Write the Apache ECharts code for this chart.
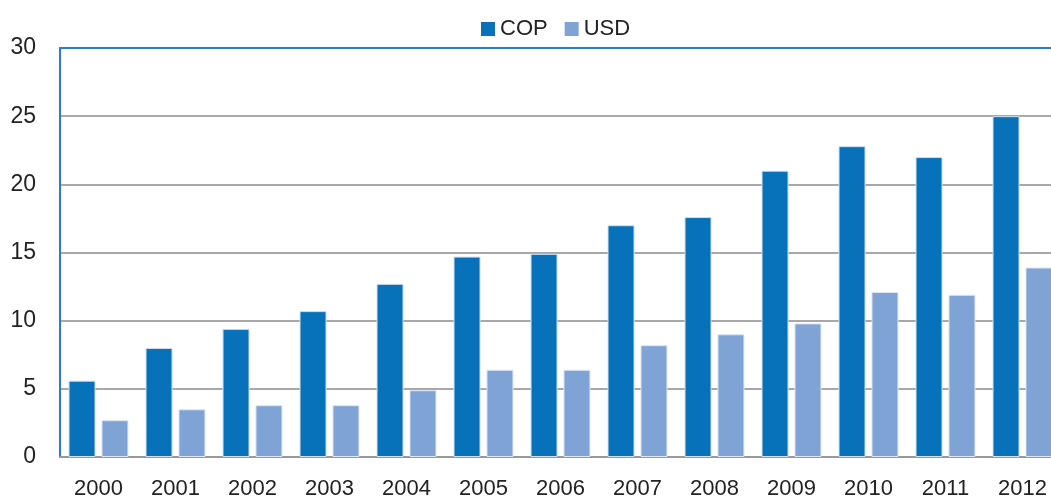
<!DOCTYPE html>
<html>
<head>
<meta charset="utf-8">
<script src="https://cdn.jsdelivr.net/npm/echarts@6/dist/echarts.min.js"></script>
<style>
  html, body { margin: 0; padding: 0; background: #fff; overflow: hidden; }
  #chart { width: 1061px; height: 500px; }
</style>
</head>
<body>
<div id="chart"></div>
<script>
const years = ['2000', '2001', '2002', '2003', '2004', '2005', '2006', '2007', '2008', '2009', '2010', '2011', '2012']
const cop = [5.6, 8.0, 9.4, 10.7, 12.7, 14.7, 14.9, 17.0, 17.6, 21.0, 22.8, 22.0, 25.0]
const usd = [2.7, 3.5, 3.8, 3.8, 4.9, 6.4, 6.4, 8.2, 9.0, 9.8, 12.1, 11.9, 13.9]

const font = '"Liberation Sans", Arial, sans-serif'
const chart = echarts.init(document.getElementById('chart'))

// the plot runs past the right edge of the window, like in the original
chart.setOption({
  animation: false,
  textStyle: { fontFamily: font },
  legend: {
    top: 13,
    left: 476,
    icon: 'rect',
    itemWidth: 14,
    itemHeight: 14,
    itemGap: 17,
    itemStyle: { borderWidth: 0 },
    textStyle: { fontSize: 22, color: '#222', fontFamily: font },
    data: ['COP', 'USD']
  },
  grid: { left: 60, top: 48, bottom: 42, right: 0 },
  xAxis: [
    {
      type: 'category',
      data: years,
      axisTick: { show: false },
      axisLine: { lineStyle: { color: '#999', width: 2 } },
      axisLabel: { fontSize: 22, color: '#222', margin: 21, fontFamily: font }
    },
    {
      type: 'category',
      position: 'top',
      data: years,
      axisTick: { show: false },
      axisLabel: { show: false },
      axisLine: { lineStyle: { color: '#2a7ec8', width: 2 } }
    }
  ],
  yAxis: {
    type: 'value',
    min: 0,
    max: 30,
    interval: 5,
    axisLine: { show: true, lineStyle: { color: '#2a7ec8', width: 2 } },
    axisTick: { show: false },
    splitLine: { lineStyle: { color: '#a8a8a8', width: 2 } },
    axisLabel: { fontSize: 23, color: '#222', margin: 24, fontFamily: font }
  },
  series: [
    {
      name: 'COP',
      type: 'bar',
      data: cop,
      barWidth: 27,
      barGap: '22%',
      itemStyle: { color: '#0771ba', borderColor: '#cfe0f0', borderWidth: 1 }
    },
    {
      name: 'USD',
      type: 'bar',
      data: usd,
      barWidth: 27,
      itemStyle: { color: '#7ea3d4', borderColor: '#dde7f3', borderWidth: 1 }
    }
  ]
})
</script>
</body>
</html>
